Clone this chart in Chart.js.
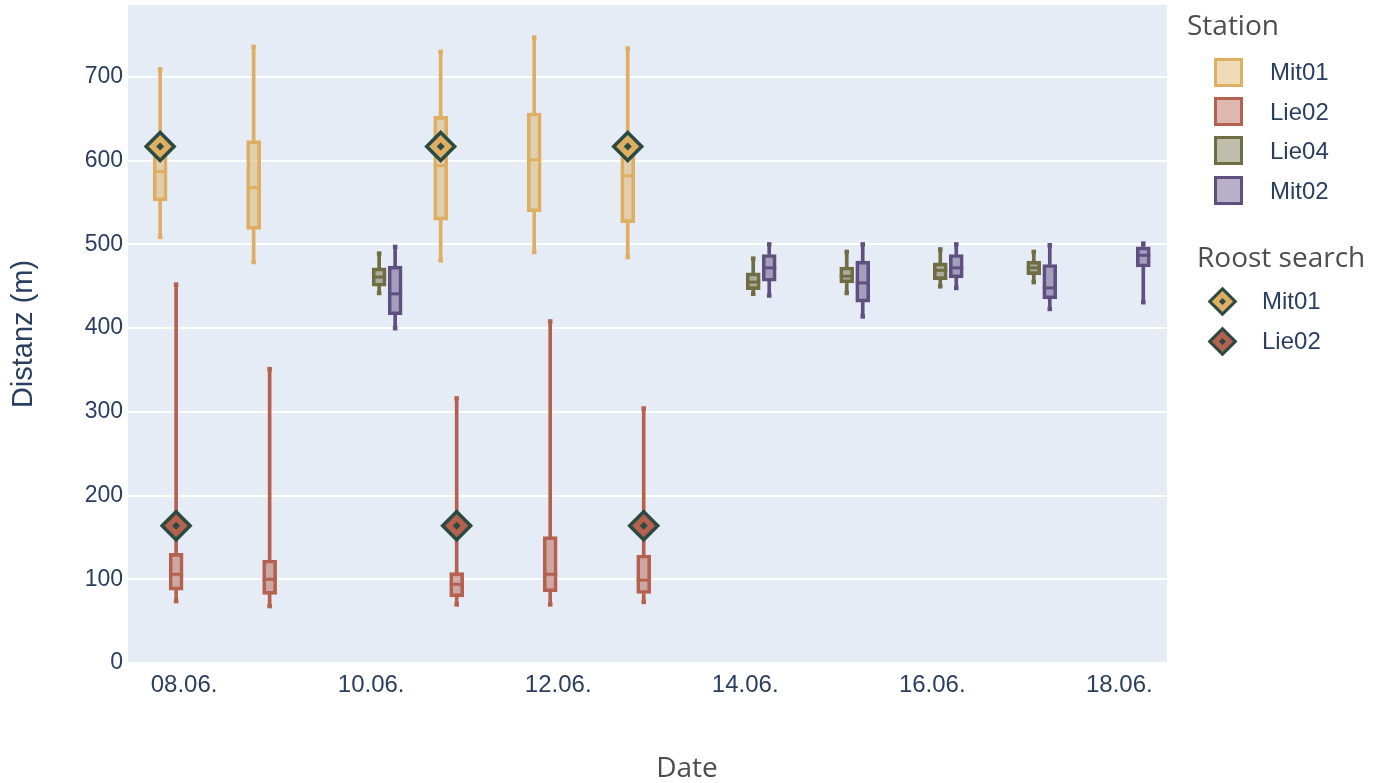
<!DOCTYPE html>
<html>
<head>
<meta charset="utf-8">
<script src="https://cdn.jsdelivr.net/npm/chart.js@4.4.1/dist/chart.umd.min.js"></script>
<style>
  body { margin: 0; background: #fff; }
  #wrap { position: relative; width: 1374px; height: 783px; }
  .lg-title { position: absolute; font-family: "Open Sans", sans-serif; font-size: 28px; line-height: 28px; color: #4d4d4d; white-space: nowrap; }
  .lg-text { position: absolute; font-family: "Liberation Sans", Arial, sans-serif; font-size: 24px; line-height: 24px; color: #2a3f5f; white-space: nowrap; }
  .lg-box { position: absolute; width: 29px; height: 29px; box-sizing: border-box; border: 3.5px solid; }
  .lg-dia { position: absolute; width: 21px; height: 21px; box-sizing: border-box; border: 3px solid #2b4a42; transform: rotate(45deg); }
  .lg-dot { position: absolute; left: 5px; top: 5px; width: 5px; height: 5px; background: #2b4a42; }
</style>
</head>
<body>
<div id="wrap">
  <canvas id="boxChart" width="1374" height="783"></canvas>
  <div id="legend"></div>
</div>
<script>
// x ticks
const tickDays = [8, 10, 12, 14, 16, 18];
const tickLabels = ["08.06.", "10.06.", "12.06.", "14.06.", "16.06.", "18.06."];

const stationNames = ["Mit01", "Lie02", "Lie04", "Mit02"];
const stationColors = ["#deaf62", "#b56150", "#706c44", "#605080"];

// per day: [min, q1, median, q3, max]
const mit01Days = [8, 9, 11, 12, 13];
const mit01Stats = [
  [509, 552, 587, 612, 709],
  [479, 518, 568, 624, 736],
  [481, 529, 594, 653, 730],
  [491, 539, 601, 657, 747],
  [485, 526, 582, 612, 734],
];

const lie02Days = [8, 9, 11, 12, 13];
const lie02Stats = [
  [74, 87, 106, 131, 452],
  [68, 82, 100, 123, 351],
  [70, 79, 94, 108, 316],
  [70, 85, 106, 151, 408],
  [73, 83, 99, 129, 304],
];

const lie04Days = [10, 14, 15, 16, 17];
const lie04Stats = [
  [442, 450, 461, 472, 489],
  [441, 446, 455, 466, 483],
  [442, 454, 462, 473, 491],
  [450, 458, 469, 478, 494],
  [455, 464, 472, 480, 491],
];

const mit02Days = [10, 14, 15, 16, 17, 18];
const mit02Stats = [
  [400, 416, 441, 474, 497],
  [439, 456, 472, 488, 500],
  [414, 431, 454, 480, 500],
  [448, 460, 472, 488, 500],
  [423, 435, 448, 476, 499],
  [431, 473, 487, 497, 501],
];

// roost search
const roostNames = ["Mit01", "Lie02"];
const roostDays = [8, 11, 13];
const roostMit01 = [617, 617, 617];
const roostLie02 = [164, 164, 164];

const slotWidth = 0.171; // days between neighbouring boxes of one date
const diamondBorder = "#2b4a42";

function fade(hex, a) {
  const n = parseInt(hex.slice(1), 16);
  return `rgba(${(n >> 16) & 255}, ${(n >> 8) & 255}, ${n & 255}, ${a})`;
}

function boxDatasets(slot, days, stats) {
  const color = stationColors[slot];
  const off = (slot - 1.5) * slotWidth;
  const whiskers = [];
  const caps = [];
  days.forEach((d, i) => {
    const [mn, q1, , q3, mx] = stats[i];
    whiskers.push({ x: d + off, y: [mn, q1] }, { x: d + off, y: [q3, mx] });
    caps.push({ x: d + off, y: mn }, { x: d + off, y: mx });
  });
  return [
    {
      type: "bar",
      label: stationNames[slot] + " whisker",
      data: whiskers,
      backgroundColor: color,
      borderWidth: 0,
      barThickness: 3,
      grouped: false,
      order: 6,
    },
    {
      type: "scatter",
      label: stationNames[slot] + " cap",
      data: caps,
      pointStyle: "rect",
      pointRadius: 3.2,
      pointBackgroundColor: color,
      pointBorderWidth: 0,
      order: 5,
    },
    {
      type: "bar",
      label: stationNames[slot],
      data: days.map((d, i) => ({ x: d + off, y: [stats[i][1], stats[i][3]] })),
      backgroundColor: fade(color, 0.5),
      borderColor: color,
      borderWidth: 3,
      borderSkipped: false,
      barThickness: 14,
      grouped: false,
      order: 4,
    },
    {
      type: "scatter",
      label: stationNames[slot] + " median",
      data: days.map((d, i) => ({ x: d + off, y: stats[i][2] })),
      pointStyle: "line",
      pointRadius: 7,
      pointBorderColor: color,
      pointBorderWidth: 3,
      order: 3,
    },
  ];
}

function roostDatasets(slot, values) {
  const off = (slot - 1.5) * slotWidth;
  const pts = roostDays.map((d, i) => ({ x: d + off, y: values[i] }));
  return [
    {
      type: "scatter",
      label: "Roost " + stationNames[slot],
      data: pts,
      pointStyle: "rectRot",
      pointRadius: 14,
      pointBackgroundColor: stationColors[slot],
      pointBorderColor: diamondBorder,
      pointBorderWidth: 3.5,
      order: 1,
    },
    {
      type: "scatter",
      label: "Roost " + stationNames[slot] + " dot",
      data: pts,
      pointStyle: "rectRot",
      pointRadius: 4,
      pointBackgroundColor: diamondBorder,
      pointBorderWidth: 0,
      order: 0,
    },
  ];
}

const datasets = [
  ...boxDatasets(0, mit01Days, mit01Stats),
  ...boxDatasets(1, lie02Days, lie02Stats),
  ...boxDatasets(2, lie04Days, lie04Stats),
  ...boxDatasets(3, mit02Days, mit02Stats),
  ...roostDatasets(0, roostMit01),
  ...roostDatasets(1, roostLie02),
];

// plot background
const plotBg = {
  id: "plotBg",
  beforeDraw(chart) {
    const { ctx, chartArea: a } = chart;
    ctx.save();
    ctx.fillStyle = "#e5ecf6";
    ctx.fillRect(a.left, a.top, a.right - a.left, a.bottom - a.top);
    ctx.restore();
  },
};

const fontFamily = "'Liberation Sans', Arial, sans-serif";

new Chart(document.getElementById("boxChart"), {
  type: "bar",
  data: { datasets },
  plugins: [plotBg],
  options: {
    responsive: false,
    animation: false,
    events: [],
    layout: { autoPadding: false, padding: { top: 5, left: 0, right: 0, bottom: 0 } },
    plugins: {
      legend: { display: false },
      tooltip: { enabled: false },
      title: {
        display: true,
        position: "bottom",
        text: "Date",
        color: "#4d4d4d",
        font: { family: "'Open Sans', sans-serif", size: 28, weight: "normal", lineHeight: 1 },
        padding: 0,
      },
    },
    scales: {
      x: {
        type: "linear",
        min: 7.4,
        max: 18.51,
        offset: false,
        grid: { display: false },
        border: { display: false },
        ticks: {
          stepSize: 2,
          includeBounds: false,
          autoSkip: false,
          maxRotation: 0,
          padding: 0,
          color: "#2a3f5f",
          font: { family: fontFamily, size: 24 },
          callback: (v) => {
            const i = tickDays.indexOf(v);
            return i >= 0 ? tickLabels[i] : "";
          },
        },
        afterFit: (scale) => {
          scale.height = 92;
          scale.paddingLeft = 0;
          scale.paddingRight = 0;
        },
      },
      y: {
        min: 0,
        max: 786,
        grid: { color: "#ffffff", lineWidth: 2, drawTicks: false },
        border: { display: false },
        ticks: {
          stepSize: 100,
          includeBounds: false,
          padding: 5,
          color: "#2a3f5f",
          font: { family: fontFamily, size: 23 },
        },
        title: {
          display: true,
          text: "Distanz (m)",
          color: "#2a3f5f",
          font: { family: fontFamily, size: 29 },
          padding: { top: 7, bottom: 0 },
        },
        afterFit: (scale) => {
          scale.width = 128;
          scale.paddingTop = 0;
          scale.paddingBottom = 0;
        },
      },
      // empty axis keeping room for the legend on the right
      yRight: {
        position: "right",
        min: 0,
        max: 1,
        grid: { display: false },
        border: { display: false },
        ticks: { display: false },
        afterFit: (scale) => { scale.width = 207; },
      },
    },
  },
});

// legend
const legend = document.getElementById("legend");
function add(cls, css, text) {
  const el = document.createElement("div");
  el.className = cls;
  Object.assign(el.style, css);
  if (text) el.textContent = text;
  legend.appendChild(el);
  return el;
}
add("lg-title", { left: "1187px", top: "10px" }, "Station");
stationNames.forEach((name, i) => {
  const cy = 72 + i * 39.4;
  add("lg-box", {
    left: "1214px",
    top: cy - 14.5 + "px",
    borderColor: stationColors[i],
    background: fade(stationColors[i], 0.45),
  });
  add("lg-text", { left: "1270px", top: cy - 11.7 + "px" }, name);
});
add("lg-title", { left: "1197px", top: "242px" }, "Roost search");
roostNames.forEach((name, i) => {
  const cy = 301 + i * 40;
  const d = add("lg-dia", { left: 1222 - 10.5 + "px", top: cy - 10.5 + "px", background: stationColors[i] });
  const dot = document.createElement("div");
  dot.className = "lg-dot";
  d.appendChild(dot);
  add("lg-text", { left: "1262px", top: cy - 11.7 + "px" }, name);
});
</script>
</body>
</html>
